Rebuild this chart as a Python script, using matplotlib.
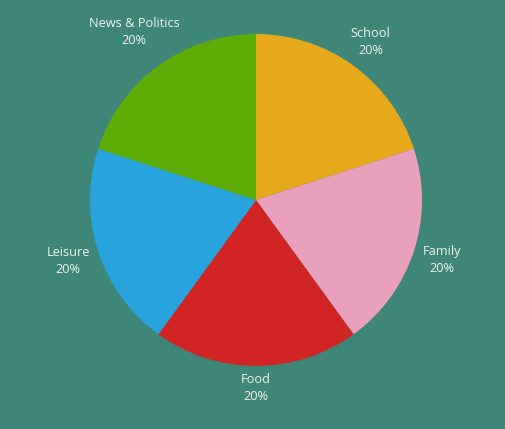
import numpy as np
import matplotlib.pyplot as plt

# --- data ---
categories = ['School', 'Family', 'Food', 'Leisure', 'News & Politics']
values = [20, 20, 20, 20, 20]
colors = ['#E5A91A', '#E8A0BC', '#D12525', '#29A3DD', '#5DAD06']
label_dist = [1.175, 1.175, 1.13, 1.19, 1.25]
bg = '#3E8677'

plt.rcParams['font.family'] = ['Open Sans', 'DejaVu Sans']

fig = plt.figure(figsize=(5.05, 4.29), dpi=100, facecolor=bg)
# pie center at (256, 200) px, radius 166 px
L = 1.5
W = 166 * L * 2
ax = fig.add_axes([(256 - W / 2) / 505, (229 - W / 2) / 429, W / 505, W / 429])
ax.set_facecolor(bg)

total = sum(values)
labels = [f'{c}\n{v / total * 100:.0f}%' for c, v in zip(categories, values)]
wedges, texts = ax.pie(values, colors=colors, startangle=90, counterclock=False,
                       labels=labels, labeldistance=1.18,
                       textprops=dict(color='#F2F2F2', fontsize=9.2, linespacing=1.4))
# nudge each label to its own distance from the centre
for w, t, d in zip(wedges, texts, label_dist):
    ang = np.deg2rad((w.theta1 + w.theta2) / 2)
    t.set_position((d * np.cos(ang), d * np.sin(ang)))
    t.set_ha('center')
    t.set_va('center')

ax.set_xlim(-L, L)
ax.set_ylim(-L, L)
ax.set_aspect('equal')
ax.axis('off')

fig.savefig('out.png', dpi=100, facecolor=bg)
